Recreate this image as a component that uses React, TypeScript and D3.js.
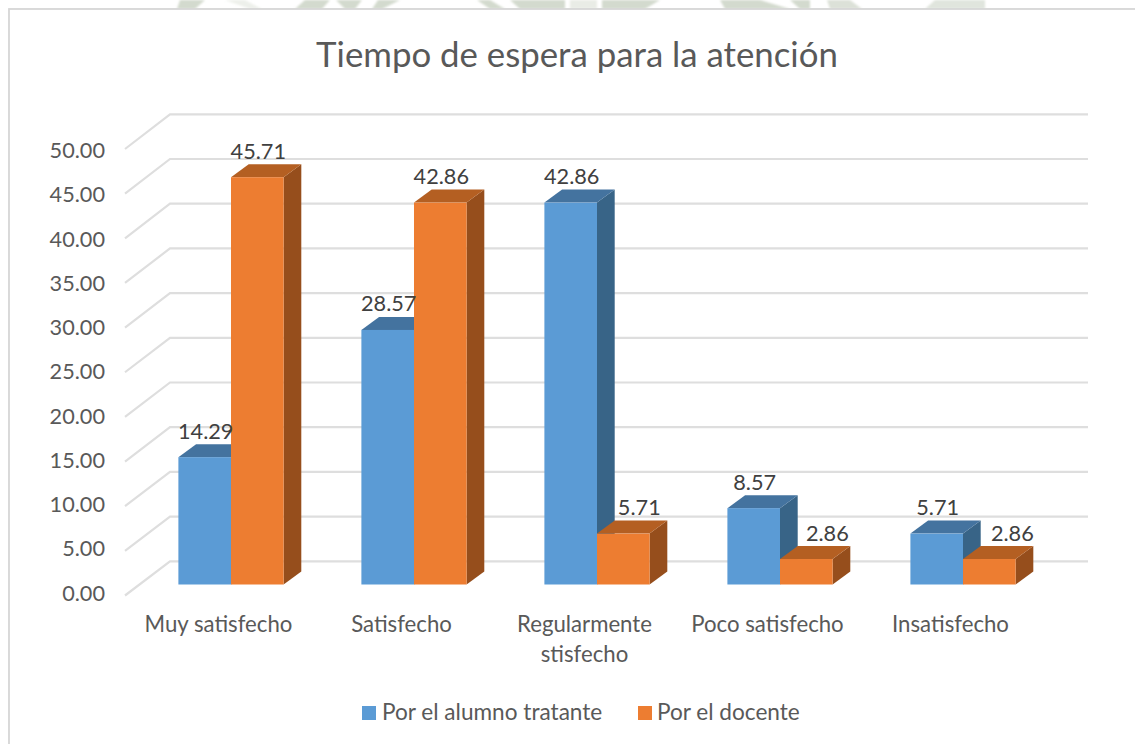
import React from "react";
import * as d3 from "d3";

const categories = ["Muy satisfecho", "Satisfecho", "Regularmente stisfecho", "Poco satisfecho", "Insatisfecho"];
const alumno = [14.29, 28.57, 42.86, 8.57, 5.71];
const docente = [45.71, 42.86, 5.71, 2.86, 2.86];
const seriesNames = ["Por el alumno tratante", "Por el docente"];
const ticks = [0, 5, 10, 15, 20, 25, 30, 35, 40, 45, 50];
const title = "Tiempo de espera para la atención";

const FONT = "Lato, 'Open Sans', sans-serif";
const DX = 17.7;
const DY = 13;
const palette = [
  { front: "#5B9BD5", top: "#44739F", side: "#386487" },
  { front: "#ED7D31", top: "#B45F22", side: "#964E1C" },
];
const docenteLabelShift = [1, 1, 16, 21, 23];

const x0 = d3.scaleBand<string>().domain(categories).range([139.5, 1054.5]).paddingInner(0.4251).paddingOuter(0.2125);
const x1 = d3.scaleBand<string>().domain(seriesNames).range([0, x0.bandwidth()]);
const yFront = d3.scaleLinear().domain([0, 50]).range([584.5, 139]);
const yBack = d3.scaleLinear().domain([0, 50]).range([561.3, 114.3]);
const yFloor = d3.scaleLinear().domain([0, 50]).range([595.5, 149]);
const yTickText = d3.scaleLinear().domain([0, 50]).range([600.5, 158]);

const pts = (p: [number, number][]) => p.map((q) => q.join(",")).join(" ");

function Bar({ x, w, v, c }: { x: number; w: number; v: number; c: (typeof palette)[0] }) {
  const t = yFront(v);
  const b = yFront(0);
  return (
    <g>
      <polygon points={pts([[x + w, t], [x + w + DX, t - DY], [x + w + DX, b - DY], [x + w, b]])} fill={c.side} />
      <polygon points={pts([[x, t], [x + DX, t - DY], [x + w + DX, t - DY], [x + w, t]])} fill={c.top} />
      <rect x={x} y={t} width={w} height={b - t} fill={c.front} />
    </g>
  );
}

export default function App() {
  const order = categories.map((_, i) => i);
  const labelCx = (i: number) => x0(categories[i])! + x0.bandwidth() / 2 - 12.5;
  return (
    <svg width={1135} height={744} style={{ position: "absolute", left: 0, top: 0, background: "#fff" }} fontFamily={FONT}>
      <defs>
        <filter id="soft"><feGaussianBlur stdDeviation="1" /></filter>
      </defs>
      <g fill="#D3DACE" filter="url(#soft)">
        <polygon points="180,0 205,0 195,9 177,9" />
        <polygon points="225,0 245,0 262,9 250,9" opacity={0.4} />
        <polygon points="305,0 330,0 322,9 295,9" />
        <polygon points="336,0 362,0 355,9 345,9" />
        <polygon points="378,0 400,0 382,9 372,9" />
        <polygon points="477,0 490,0 505,9 490,9" />
        <polygon points="510,0 565,0 565,9 520,9" />
        <polygon points="570,0 597,0 597,9 570,9" opacity={0.5} />
        <polygon points="602,0 660,0 645,9 602,9" />
        <polygon points="720,0 760,0 790,9 725,9" />
        <polygon points="790,0 810,0 810,9 800,9" />
        <polygon points="827,0 850,0 862,9 830,9" opacity={0.8} />
        <polygon points="935,0 985,0 985,9 925,9" opacity={0.7} />
      </g>
      <rect x={9} y={9} width={1200} height={1000} fill="#fff" stroke="#D6D6D6" strokeWidth={1.8} />
      <text x={577} y={67} textAnchor="middle" fontSize={34.8} fill="#595959">{title}</text>
      <g fill="none" stroke="#DEDEDE" strokeWidth={2.2}>
        {ticks.map((t) => (
          <polyline key={t} points={pts([[125, yFloor(t)], [170, yBack(t)], [1088, yBack(t)]])} />
        ))}
      </g>
      {ticks.map((t) => (
        <text key={t} x={105} y={yTickText(t)} textAnchor="end" fontSize={21.7} fill="#595959">{t.toFixed(2)}</text>
      ))}
      {order.map((i) => {
        const gx = x0(categories[i])!;
        const w = x1.bandwidth();
        return (
          <g key={i}>
            <Bar x={gx + x1(seriesNames[0])!} w={w} v={alumno[i]} c={palette[0]} />
            <Bar x={gx + x1(seriesNames[1])!} w={w} v={docente[i]} c={palette[1]} />
          </g>
        );
      })}
      {order.map((i) => {
        const gx = x0(categories[i])!;
        const w = x1.bandwidth();
        const sx = [gx + x1(seriesNames[0])! + w / 2 + 1, gx + x1(seriesNames[1])! + w / 2 + docenteLabelShift[i]];
        return (
          <g key={i} fontSize={21.7} fill="#404040" textAnchor="middle">
            <text x={sx[0]} y={yFront(alumno[i]) - 18.5}>{alumno[i].toFixed(2)}</text>
            <text x={sx[1]} y={yFront(docente[i]) - 18.5}>{docente[i].toFixed(2)}</text>
          </g>
        );
      })}
      {order.map((i) => {
        const lines = i === 2 ? categories[i].split(" ") : [categories[i]];
        return (
          <text key={i} textAnchor="middle" fontSize={22.2} fill="#595959">
            {lines.map((l, k) => (
              <tspan key={k} x={labelCx(i)} y={631.5 + k * 30}>{l}</tspan>
            ))}
          </text>
        );
      })}
      <rect x={362} y={706} width={14} height={14} fill={palette[0].front} />
      <text x={382} y={720} fontSize={22.6} fill="#595959">{seriesNames[0]}</text>
      <rect x={638} y={706} width={14} height={14} fill={palette[1].front} />
      <text x={657} y={720} fontSize={22.6} fill="#595959">{seriesNames[1]}</text>
    </svg>
  );
}
